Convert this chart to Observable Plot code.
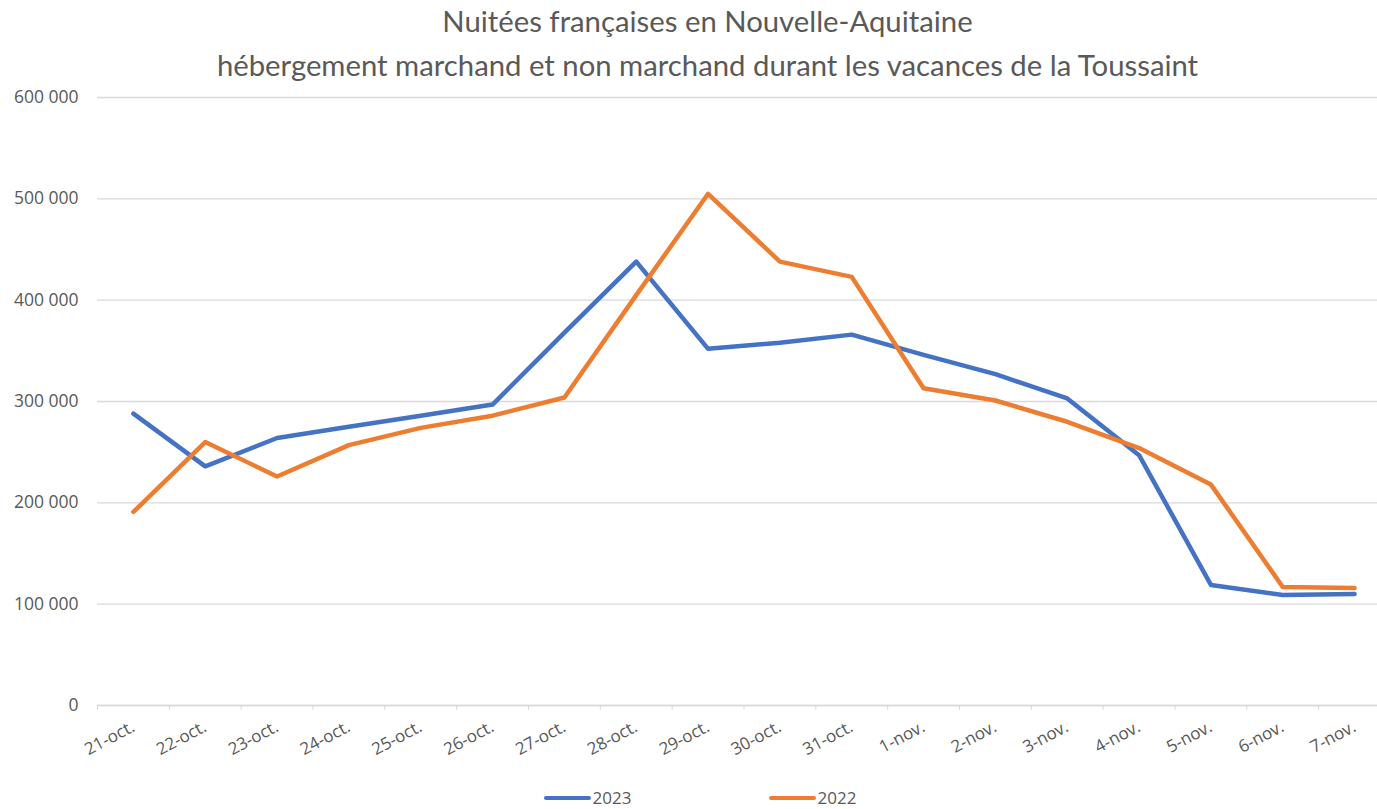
<!DOCTYPE html>
<html>
<head>
<meta charset="utf-8">
<script src="https://cdn.jsdelivr.net/npm/d3@7"></script>
<script src="https://cdn.jsdelivr.net/npm/@observablehq/plot@0.6"></script>
<style>
  html, body { margin: 0; padding: 0; background: #fff; }
  body { width: 1377px; height: 809px; overflow: hidden; position: relative; font-family: Lato, "Open Sans", sans-serif; }
  #title { height: 76px; position: relative; color: #595959; font-family: Lato, sans-serif; font-size: 29.3px; }
  #title div { position: absolute; left: 19px; width: 1377px; text-align: center; line-height: 32px; }
  #t1 { top: 5px; }
  #t2 { top: 49px; }
  #chart { width: 1377px; height: 710px; overflow: hidden; }
  #chart svg { max-width: none !important; }
  #legend { display: flex; justify-content: center; gap: 137px; padding-left: 23px; height: 23px; align-items: center; color: #595959; font-family: "Open Sans", sans-serif; font-size: 17px; }
  .item { display: flex; align-items: center; gap: 2px; }
  .sw { width: 47px; height: 4px; border-radius: 2px; }
</style>
</head>
<body>
<div id="title">
  <div id="t1">Nuitées françaises en Nouvelle-Aquitaine</div>
  <div id="t2">hébergement marchand et non marchand durant les vacances de la Toussaint</div>
</div>
<div id="chart"></div>
<div id="legend"></div>
<script>
const dates = ["21-oct.", "22-oct.", "23-oct.", "24-oct.", "25-oct.", "26-oct.", "27-oct.", "28-oct.", "29-oct.", "30-oct.", "31-oct.", "1-nov.", "2-nov.", "3-nov.", "4-nov.", "5-nov.", "6-nov.", "7-nov."];
const series = ["2023", "2022"];
const colors = ["#4472C4", "#ED7D31"];
const values2023 = [288000, 236000, 264000, 275000, 286000, 297000, 368000, 438000, 352000, 358000, 366000, 346000, 327000, 303000, 247000, 119000, 109000, 110000];
const values2022 = [191000, 260000, 226000, 257000, 274000, 286000, 304000, 405000, 505000, 438000, 423000, 313000, 301000, 280000, 254000, 218000, 117000, 116000];
const yTicks = [0, 100000, 200000, 300000, 400000, 500000, 600000];

const data = [];
dates.forEach((d, i) => data.push({date: d, series: "2023", value: values2023[i]}));
dates.forEach((d, i) => data.push({date: d, series: "2022", value: values2022[i]}));

const fmt = d3.formatLocale({decimal: ",", thousands: " ", grouping: [3], currency: ["", " €"]}).format(",d");

const width = 1390, height = 710;
const marginLeft = 97, marginRight = 0;
const step = (width - marginLeft - marginRight) / dates.length;

const chart = Plot.plot({
  width, height,
  marginTop: 21, marginBottom: 81, marginLeft, marginRight,
  style: {fontFamily: "'Open Sans', sans-serif", color: "#595959", background: "#fff", maxWidth: "none"},
  x: {type: "point", domain: dates, padding: 0.5, round: false, label: null},
  y: {domain: [0, 600000], label: null},
  color: {domain: series, range: colors},
  marks: [
    Plot.gridY(yTicks, {stroke: "#d9d9d9", strokeOpacity: 1, strokeWidth: 1.3}),
    Plot.ruleY([0], {stroke: "#d9d9d9", strokeWidth: 1.3}),
    Plot.axisY(yTicks, {tickSize: 0, tickPadding: 19, tickFormat: fmt, fontSize: 17.5, label: null}),
    Plot.axisX({tickSize: 5, tickFormat: () => "", dx: -step / 2, stroke: "#d9d9d9", label: null}),
    Plot.axisX({tickSize: 0, tickRotate: -28, tickPadding: 20, fontSize: 17, label: null}),
    Plot.lineY(data, {x: "date", y: "value", z: "series", stroke: "series", strokeWidth: 4.5, strokeLinejoin: "round", strokeLinecap: "round"})
  ]
});
chart.style.maxWidth = "none";
document.getElementById("chart").appendChild(chart);

const legend = document.getElementById("legend");
series.forEach((s, i) => {
  const item = document.createElement("div");
  item.className = "item";
  const sw = document.createElement("div");
  sw.className = "sw";
  sw.style.background = colors[i];
  const t = document.createElement("span");
  t.textContent = s;
  item.appendChild(sw);
  item.appendChild(t);
  legend.appendChild(item);
});
</script>
</body>
</html>
